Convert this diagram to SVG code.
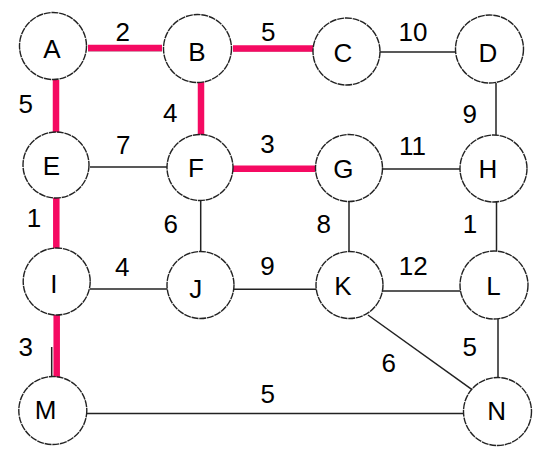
<svg xmlns="http://www.w3.org/2000/svg" width="541" height="453" viewBox="0 0 541 453">
<style>
.n{fill:#fff;stroke:#222;stroke-width:1.4;stroke-dasharray:7 0.8}
.t{font-family:"Liberation Sans",Arial,sans-serif;font-size:26px;fill:#000;text-anchor:middle}
.e{stroke:#222;stroke-width:1.5;fill:none}
.p{stroke:#f50a62;stroke-width:6.5;fill:none}
</style>
<rect width="541" height="453" fill="#fff"/>
<g id="connectors">
<line class="e" x1="88" y1="50.5" x2="162" y2="50.5"/>
<line class="p" x1="88" y1="48" x2="162" y2="48"/>
<line class="e" x1="233" y1="50.5" x2="313" y2="50.5"/>
<line class="p" x1="233" y1="48.5" x2="313" y2="48.5"/>
<line class="e" x1="380" y1="52" x2="455" y2="52"/>
<line class="p" x1="56" y1="80" x2="56" y2="137"/>
<line class="p" x1="201" y1="80" x2="201" y2="137"/>
<line class="e" x1="90" y1="167" x2="167" y2="167"/>
<line class="p" x1="233" y1="168.7" x2="315" y2="168.7"/>
<line class="e" x1="383" y1="169" x2="461" y2="169"/>
<line class="e" x1="496" y1="83" x2="496" y2="135"/>
<line class="p" x1="56.3" y1="193" x2="56.3" y2="249"/>
<line class="e" x1="200.7" y1="200" x2="200.7" y2="252"/>
<line class="e" x1="349" y1="201" x2="349" y2="252"/>
<line class="e" x1="496.5" y1="202" x2="496.5" y2="252"/>
<line class="e" x1="90" y1="289" x2="167" y2="289"/>
<line class="e" x1="234" y1="289.3" x2="316" y2="289.3"/>
<line class="e" x1="383" y1="291" x2="461" y2="291"/>
<line class="e" x1="51.7" y1="347" x2="51.7" y2="378"/>
<line class="p" x1="56.7" y1="315" x2="56.7" y2="378"/>
<line class="e" x1="368" y1="315" x2="471.7" y2="389.3"/>
<line class="e" x1="498" y1="318" x2="498" y2="379"/>
<line class="e" x1="87" y1="413.5" x2="464" y2="413.5"/>
</g>
<g id="labels">
<text class="t" x="122.7" y="40.7">2</text>
<text class="t" x="268.3" y="40.5">5</text>
<text class="t" x="413" y="40.7">10</text>
<text class="t" x="25.7" y="113">5</text>
<text class="t" x="170.3" y="121.7">4</text>
<text class="t" x="123.3" y="154">7</text>
<text class="t" x="267.5" y="153.3">3</text>
<text class="t" x="469.7" y="122.7">9</text>
<text class="t" x="412.5" y="155">11</text>
<text class="t" x="34" y="226.7">1</text>
<text class="t" x="170.8" y="233.3">6</text>
<text class="t" x="323.7" y="233.3">8</text>
<text class="t" x="470" y="233.3">1</text>
<text class="t" x="122.2" y="276">4</text>
<text class="t" x="267.5" y="275">9</text>
<text class="t" x="413.3" y="275">12</text>
<text class="t" x="25.8" y="356">3</text>
<text class="t" x="388.8" y="371.7">6</text>
<text class="t" x="469.7" y="356">5</text>
<text class="t" x="267.8" y="403.3">5</text>
</g>
<g id="A"><circle class="n" cx="53" cy="46" r="33.5"/><text class="t" x="51.8" y="58.3">A</text></g>
<g id="B"><circle class="n" cx="197.5" cy="48.5" r="34"/><text class="t" x="197" y="60.7">B</text></g>
<g id="C"><circle class="n" cx="346.5" cy="51.5" r="33.5"/><text class="t" x="343" y="61.7">C</text></g>
<g id="D"><circle class="n" cx="489.5" cy="49" r="34"/><text class="t" x="488" y="61.7">D</text></g>
<g id="E"><circle class="n" cx="56" cy="165" r="33"/><text class="t" x="51.5" y="175">E</text></g>
<g id="F"><circle class="n" cx="200" cy="167.5" r="33"/><text class="t" x="196" y="176.7">F</text></g>
<g id="G"><circle class="n" cx="349" cy="168" r="33.5"/><text class="t" x="343.3" y="178.3">G</text></g>
<g id="H"><circle class="n" cx="493.5" cy="168.5" r="33.5"/><text class="t" x="488" y="178.3">H</text></g>
<g id="I"><circle class="n" cx="56.7" cy="281.5" r="33.5"/><text class="t" x="53.8" y="292.7">I</text></g>
<g id="J"><circle class="n" cx="200.5" cy="285" r="33.5"/><text class="t" x="195.7" y="298.3">J</text></g>
<g id="K"><circle class="n" cx="349.5" cy="285" r="33.5"/><text class="t" x="342.8" y="295">K</text></g>
<g id="L"><circle class="n" cx="494" cy="285" r="34"/><text class="t" x="493.4" y="295">L</text></g>
<g id="M"><circle class="n" cx="52.8" cy="410.5" r="34"/><text class="t" x="45.5" y="419">M</text></g>
<g id="N"><circle class="n" cx="497.5" cy="411.5" r="34"/><text class="t" x="496.7" y="420">N</text></g>
</svg>
